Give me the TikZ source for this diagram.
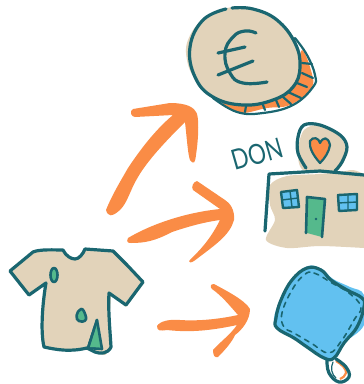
\documentclass[tikz,border=0pt]{standalone}
\usepackage{fontspec}
\setmainfont{Lato}
\definecolor{teal1}{HTML}{1A6670}
\definecolor{beige1}{HTML}{E2D3BA}
\definecolor{orange1}{HTML}{FA8C46}
\definecolor{green1}{HTML}{55B98C}
\definecolor{blue1}{HTML}{62C1F0}
\tikzset{
  ink/.style={draw=teal1,line width=3.2pt,line cap=round,line join=round},
  thinink/.style={draw=teal1,line width=2.2pt,line cap=round,line join=round},
  arrowshape/.style={fill=orange1}
}
\begin{document}
\begin{tikzpicture}[x=1pt,y=-1pt]
    \useasboundingbox (0,0) rectangle (364,384);
    %coin
    \fill[orange1] plot[smooth cycle,tension=0.6] coordinates {(223,103) (240,113) (267,108) (290,105) (312,88) (310,67) (302,50) (298,67) (290,90) (270,100) (243,103)};
    \fill[beige1] plot[smooth cycle,tension=0.7] coordinates {(227,8) (203,19) (188,40) (187,60) (195,79) (213,98) (243,104) (273,99) (293,86) (300,65) (295,40) (277,19) (253,8)};
    \draw[ink] plot[smooth,tension=0.7] coordinates {(226,9) (203,20) (190,47) (195,77) (213,97) (243,105) (273,100) (293,87) (300,67) (295,43) (277,20) (253,9) (232,8)};
    \draw[thinink] plot[smooth,tension=0.7] coordinates {(213,98) (237,112) (263,113) (293,105) (313,87) (315,75) (307,55) (295,38)};
    \foreach \xa/\ya/\xb/\yb in {246/106/245/112,263/105/265/110,276/100/279/107,283/97/291/104,288/92/301/98,297/83/307/87,302/73/313/78,302/63/312/64}
        \draw[thinink] (\xa,\ya) -- (\xb,\yb);
    \draw[ink] plot[smooth,tension=0.8] coordinates {(256,33) (245,31) (233,37) (225,53) (230,73) (243,83) (267,82)};
    \draw[ink] (218,53) -- (245,47);
    \draw[ink] (218,75) -- (253,61);
    %arrows
    \fill[arrowshape] (106,210) .. controls (108,217) and (112,217) .. (120,210) .. controls (128,202) and (130,190) .. (138,177) .. controls (148,160) and (165,142) .. (185,122) .. controls (187,140) and (188,155) .. (190,160) .. controls (194,165) and (195,163) .. (196,155) .. controls (199,135) and (199,115) .. (196,112) .. controls (192,104) and (178,103) .. (170,103) -- (133,109) .. controls (129,111) and (131,117) .. (135,117) -- (173,115) .. controls (155,130) and (140,150) .. (128,168) .. controls (120,182) and (112,195) .. (106,210) -- cycle;
    \fill[arrowshape] (128,238) .. controls (126,242) and (128,243) .. (131,243) .. controls (145,243) and (155,241) .. (172,232) .. controls (190,226) and (205,222) .. (220,220) .. controls (210,240) and (200,250) .. (189,261) .. controls (190,264) and (193,262) .. (198,258) .. controls (215,245) and (230,235) .. (234,220) .. controls (235,210) and (230,203) .. (225,200) -- (197,181) .. controls (193,182) and (191,187) .. (193,190) -- (220,209) .. controls (190,212) and (155,222) .. (128,238) -- cycle;
    \fill[arrowshape] (157,326) .. controls (157,331) and (160,331) .. (167,330) .. controls (185,332) and (205,332) .. (237,325) .. controls (230,335) and (220,342) .. (213,350) .. controls (213,356) and (215,358) .. (218,357) .. controls (225,350) and (232,342) .. (235,335) .. controls (242,330) and (250,320) .. (250,309) .. controls (245,300) and (225,290) .. (214,284) .. controls (210,284) and (210,287) .. (212,289) .. controls (222,296) and (230,306) .. (238,315) .. controls (215,320) and (195,321) .. (180,320) .. controls (170,319) and (160,321) .. (157,326) -- cycle;
    %house
    \fill[beige1] plot[smooth cycle,tension=0.5] coordinates {(304,130) (320,125) (340,137) (347,153) (335,172) (303,170) (298,150)};
    \fill[beige1] plot[smooth,tension=0.5] coordinates {(364,174) (353,170) (340,172) (320,174) (287,176) (270,185) (270,205) (275,220) (266,240) (287,248) (320,246) (364,248)} -- cycle;
    \draw[ink] plot[smooth,tension=0.6] coordinates {(306,168) (298,153) (298,137) (304,125) (320,125) (340,135) (347,147) (342,162) (335,171)};
    \draw[ink] (265,231) -- (269,174) -- (320,171) -- (364,175);
    \fill[orange1] (320,163) .. controls (313,155) and (309,148) .. (310,141) .. controls (313,136) and (319,138) .. (320,143) .. controls (323,137) and (328,136) .. (330,145) .. controls (329,152) and (325,158) .. (320,163) -- cycle;
    \draw[thinink] (320,163) .. controls (313,155) and (309,148) .. (310,141) .. controls (313,136) and (319,138) .. (320,143) .. controls (323,137) and (328,136) .. (330,145) .. controls (329,152) and (325,158) .. (320,163) -- cycle;
    \draw[ink,fill=blue1,line width=2.4pt] (281,192) -- (297,190) -- (299,207) -- (283,208) -- cycle;
    \draw[thinink,line width=1.4pt] (290,191) -- (292,207) (282,200) -- (298,198);
    \draw[ink,fill=blue1,line width=2.4pt] (338,195) -- (357,194) -- (357,210) -- (339,211) -- cycle;
    \draw[thinink,line width=1.4pt] (348,194) -- (348,210) (338,203) -- (357,202);
    \fill[green1] (307,197) -- (325,199) -- (322,237) -- (307,233) -- cycle;
    \draw[ink,line width=2.6pt] (306,233) -- (307,197) -- (325,199) -- (322,237);
    \fill[teal1] (316,219) circle (1.3);
    \node[text=teal1,font=\fontsize{28}{28}\selectfont,rotate=16,xscale=0.8] (donlabel) at (257,154) {DON};
    %shirt
    \fill[beige1] (64,250) -- (68,258) -- (75,260) -- (82,255) -- (85,249) -- (115,252) -- (128,266) -- (144,283) -- (126,307) -- (111,294) -- (110,313) -- (112,348) -- (105,355) -- (95,353) -- (87,349) -- (67,351) -- (44,348) -- (41,320) -- (46,283) -- (29,295) -- (10,271) -- (33,252) -- cycle;
    \draw[ink] (63,250) .. controls (66,256) and (71,259) .. (75,259) .. controls (79,259) and (83,254) .. (85,249) -- (113,251) -- (127,265) -- (143,282) -- (126,305) -- (109,293) .. controls (108,310) and (110,330) .. (111,347) .. controls (108,354) and (100,354) .. (95,352) -- (87,348) .. controls (70,352) and (58,350) .. (44,347) .. controls (40,330) and (43,300) .. (46,283) -- (29,295) -- (10,271) -- (33,252) .. controls (40,249) and (55,250) .. (63,250) -- cycle;
    \draw[ink,fill=green1,line width=2.6pt] (97,320) -- (88,348) -- (102,349);
    \fill[green1] (97,322) -- (90,347) -- (102,347) -- cycle;
    \draw[ink,line width=2.6pt] (97,320) -- (88,348);
    \draw[ink,line width=2.6pt] (97,320) -- (102,349);
    \draw[ink,fill=green1,line width=2.6pt] (54,275) ellipse (3.5 and 7);
    \draw[ink,fill=green1,line width=2.6pt] (81,309) .. controls (76,311) and (75,320) .. (79,321) .. controls (84,323) and (87,320) .. (86,317) .. controls (85,313) and (83,308) .. (81,309) -- cycle;
    %pad
    \draw[line width=2.2pt,orange1] (336,361) .. controls (342,364) and (347,370) .. (346,373) .. controls (345,376) and (343,378) .. (340,379);
    \draw[ink] plot[smooth,tension=0.7] coordinates {(327,360) (329,373) (339,382) (349,377) (346,367) (336,359)};
    \draw[thinink,line width=1.2pt] (333,362) .. controls (330,368) and (332,375) .. (336,378);
    \fill[blue1] plot[smooth cycle,tension=0.6] coordinates {(308,266) (322,269) (333,279) (350,287) (364,295) (364,325) (344,343) (334,357) (324,357) (307,346) (294,338) (277,328) (274,318) (280,300) (292,279)};
    \draw[ink] plot[smooth cycle,tension=0.7] coordinates {(307,268) (321,270) (331,280) (347,290) (362,298) (364,307) (357,327) (344,343) (334,358) (324,358) (307,347) (294,338) (277,328) (276,318) (281,300) (292,280)};
    \draw[thinink,line width=1.6pt,dash pattern=on 5pt off 5pt] plot[smooth cycle,tension=0.7] coordinates {(304,275) (314,273) (332,283) (349,293) (361,307) (354,320) (342,340) (329,353) (311,343) (294,333) (284,327) (282,313) (292,290)};
\end{tikzpicture}
\end{document}
